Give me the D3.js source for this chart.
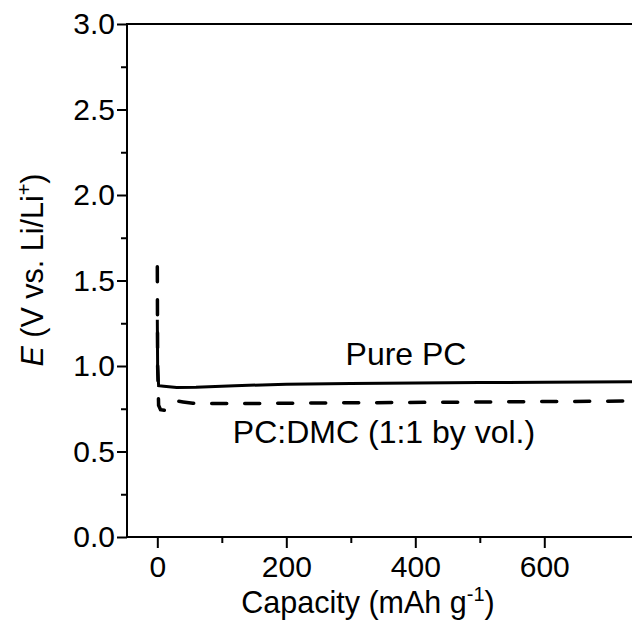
<!DOCTYPE html>
<html>
<head>
<meta charset="utf-8">
<script src="https://cdn.jsdelivr.net/npm/d3@7"></script>
<style>
  body { margin: 0; background: #fff; }
  text { font-family: "Liberation Sans", Arial, sans-serif; fill: #000; }
</style>
</head>
<body>
<div id="chart"></div>
<script>
// chart values
const pureCap = [0, 0.5, 2, 10, 30, 60, 120, 200, 300, 400, 500, 600, 736];
const pureE   = [1.27, 1.0, 0.885, 0.882, 0.875, 0.876, 0.885, 0.893, 0.897, 0.9, 0.903, 0.905, 0.908];
const dmcCap  = [0, 0.5, 2, 5, 12, 20, 30, 40, 55, 100, 200, 300, 450, 600, 736];
const dmcE    = [1.58, 1.0, 0.77, 0.745, 0.74, 0.76, 0.795, 0.79, 0.782, 0.78, 0.782, 0.785, 0.788, 0.792, 0.795];
const xTicks = [0, 200, 400, 600];
const xMinor = [100, 300, 500];
const yTicks = [0, 0.5, 1.0, 1.5, 2.0, 2.5, 3.0];
const yMinor = [0.25, 0.75, 1.25, 1.75, 2.25, 2.75];

const width = 632, height = 633;
const margin = { top: 24, right: 0, bottom: 96, left: 127 };

let svg = d3.select("#chart")
    .append("svg")
    .attr("width", width)
    .attr("height", height);

let x = d3.scaleLinear()
    .domain([-47, 736])
    .range([margin.left, width - margin.right]);

let y = d3.scaleLinear()
    .domain([0, 3])
    .range([height - margin.bottom, margin.top]);

// x axis (major + minor ticks)
svg.append("g")
    .attr("transform", `translate(0, ${y(0)})`)
    .call(d3.axisBottom(x).tickValues(xTicks).tickSize(11).tickPadding(8).tickFormat(d3.format("d")));
svg.append("g")
    .attr("transform", `translate(0, ${y(0)})`)
    .call(d3.axisBottom(x).tickValues(xMinor).tickSize(6).tickFormat(""));

// y axis
svg.append("g")
    .attr("transform", `translate(${x(-47)}, 0)`)
    .call(d3.axisLeft(y).tickValues(yTicks).tickSize(10).tickPadding(2).tickFormat(d3.format(".1f")));
svg.append("g")
    .attr("transform", `translate(${x(-47)}, 0)`)
    .call(d3.axisLeft(y).tickValues(yMinor).tickSize(6).tickFormat(""));

svg.selectAll(".domain").remove();
svg.selectAll(".tick line").attr("stroke", "#000").attr("stroke-width", 2);
svg.selectAll(".tick text").style("font-size", "30px").attr("fill", "#000");

// frame: left, bottom, top
svg.append("path")
    .attr("d", `M${width},${y(3)}H${x(-47)}V${y(0)}H${width}`)
    .attr("fill", "none")
    .attr("stroke", "#000")
    .attr("stroke-width", 2);

let line = d3.line()
    .x(function (d) { return x(d[0]); })
    .y(function (d) { return y(d[1]); });

let pure = pureCap.map(function (c, i) { return [c, pureE[i]]; });
let dmc = dmcCap.map(function (c, i) { return [c, dmcE[i]]; });

svg.append("path")
    .datum(pure)
    .attr("fill", "none")
    .attr("stroke", "#000")
    .attr("stroke-width", 3)
    .attr("d", line);

svg.append("path")
    .datum(dmc)
    .attr("fill", "none")
    .attr("stroke", "#000")
    .attr("stroke-width", 3.5)
    .attr("stroke-linecap", "round")
    .attr("stroke-dasharray", "15,18")
    .attr("d", line);

// curve labels
svg.append("text")
    .attr("x", 406)
    .attr("y", 365)
    .style("text-anchor", "middle")
    .style("font-size", "32px")
    .text("Pure PC");

svg.append("text")
    .attr("x", 384)
    .attr("y", 443)
    .style("text-anchor", "middle")
    .style("font-size", "32px")
    .text("PC:DMC (1:1 by vol.)");

// x-axis title
let xt = svg.append("text")
    .attr("x", 368)
    .attr("y", 613)
    .style("text-anchor", "middle")
    .style("font-size", "30.5px");
xt.append("tspan").text("Capacity (mAh g");
xt.append("tspan").attr("dy", -12).style("font-size", "20px").text("-1");
xt.append("tspan").attr("dy", 12).text(")");

// y-axis title
let yt = svg.append("text")
    .attr("transform", `translate(43, 270) rotate(-90)`)
    .style("text-anchor", "middle")
    .style("font-size", "30.5px");
yt.append("tspan").style("font-style", "italic").text("E");
yt.append("tspan").text(" (V vs. Li/Li");
yt.append("tspan").attr("dy", -12).style("font-size", "20px").text("+");
yt.append("tspan").attr("dy", 12).text(")");
</script>
</body>
</html>
